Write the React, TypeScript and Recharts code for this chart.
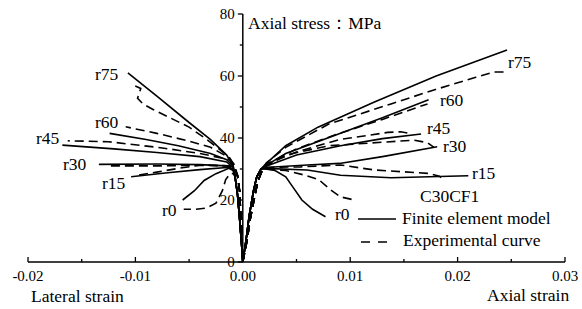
import { LineChart, Line, XAxis, YAxis, ReferenceLine, ReferenceDot } from 'recharts'

const FONT = 'Liberation Serif'

// axis ticks
const xMajorTicks = [-0.02, -0.01, 0, 0.01, 0.02, 0.03]
const xMinorTicks = [-0.015, -0.005, 0.005, 0.015, 0.025]
const yMajorTicks = [0, 20, 40, 60, 80]
const yMinorTicks = [10, 30, 50, 70]

// [strain, stress MPa]
const feLateralRise = [[0, 0], [-0.0001, 5], [-0.0003, 14], [-0.0005, 22], [-0.0007, 27]]
const expLateralRise = [[0, 0], [-0.0001, 8], [-0.0002, 16], [-0.0003, 23], [-0.0005, 28]]
const feAxialRise = [[0, 0], [0.0003, 7], [0.0006, 15], [0.001, 23], [0.0013, 27.5], [0.0017, 30]]
const expAxialRise = [[0, 0], [0.0004, 7], [0.0007, 14], [0.0011, 21], [0.0014, 26], [0.0018, 29.5]]

// finite element model, lateral branch
const feR75Lat = [[-0.0009, 31], [-0.0015, 34.5], [-0.003, 39.5], [-0.005, 45], [-0.008, 53.5], [-0.0107, 61]]
const feR60Lat = [[-0.0009, 31], [-0.0015, 33], [-0.003, 35], [-0.006, 37.5], [-0.009, 39.5], [-0.0124, 41.5]]
const feR45Lat = [[-0.0009, 30.5], [-0.0015, 32.3], [-0.004, 34], [-0.008, 35.3], [-0.012, 36.5], [-0.0168, 37.7]]
const feR30Lat = [[-0.0009, 30], [-0.0015, 31], [-0.004, 31.4], [-0.008, 31.6], [-0.0134, 31.5]]
const feR15Lat = [[-0.0009, 30], [-0.0015, 30.5], [-0.004, 29.8], [-0.007, 28.8], [-0.0104, 27.5]]
const feR0Lat = [[-0.0009, 29.5], [-0.0013, 30.2], [-0.0025, 28.5], [-0.0036, 26.3], [-0.0045, 23], [-0.0056, 20]]

// experimental curve, lateral branch
const expR75Lat = [[-0.0008, 31.5], [-0.0015, 34.5], [-0.0033, 39.4], [-0.005, 43.5], [-0.007, 46.9], [-0.0084, 49.3], [-0.0093, 51], [-0.0098, 52.8], [-0.0095, 56], [-0.0103, 57.2]]
const expR60Lat = [[-0.0008, 31], [-0.0012, 33.5], [-0.003, 37], [-0.005, 39], [-0.008, 41.5], [-0.0109, 43.6]]
const expR45Lat = [[-0.0008, 31], [-0.0012, 33], [-0.004, 35], [-0.0075, 36.8], [-0.0125, 38.8], [-0.0163, 39.1]]
const expR30Lat = [[-0.0008, 30.5], [-0.0012, 31], [-0.004, 31.2], [-0.008, 31], [-0.0125, 31]]
const expR15Lat = [[-0.0008, 30], [-0.0012, 31], [-0.0039, 31.3], [-0.006, 30.2], [-0.008, 29], [-0.0098, 28]]
const expR0Lat = [[-0.0008, 28.5], [-0.0012, 28.5], [-0.0016, 26.5], [-0.0019, 23], [-0.0025, 19], [-0.0034, 17.4], [-0.0044, 17], [-0.0055, 17]]

// finite element model, axial branch
const feR75Ax = [[0.0021, 31.5], [0.004, 37.5], [0.007, 43.5], [0.0122, 51.5], [0.018, 60], [0.0246, 68.4]]
const feR60Ax = [[0.0021, 31], [0.004, 35], [0.0091, 41.5], [0.013, 46.5], [0.0173, 52.3]]
const feR45Ax = [[0.0021, 30.8], [0.005, 34.5], [0.0091, 37.5], [0.013, 39.8], [0.0166, 41.3]]
const feR30Ax = [[0.0021, 30.5], [0.006, 31.3], [0.009, 31.8], [0.013, 34], [0.0181, 37.2]]
const feR15Ax = [[0.0021, 30.2], [0.006, 29.7], [0.0091, 28], [0.0138, 27.2], [0.021, 27.8]]
const feR0Ax = [[0.0021, 30], [0.003, 29.5], [0.004, 27.5], [0.0047, 24], [0.0055, 20], [0.0065, 17], [0.0077, 14.6]]

// experimental curve, axial branch
const expR75Ax = [[0.0022, 32], [0.004, 37], [0.008, 44.5], [0.0138, 51], [0.0178, 55.5], [0.0217, 59.6], [0.0234, 61.3], [0.0243, 61.3]]
const expR60Ax = [[0.0022, 31.5], [0.005, 36.5], [0.009, 41.5], [0.013, 46], [0.0172, 51]]
const expR45Ax = [[0.0022, 31.5], [0.005, 35.5], [0.009, 39.5], [0.0135, 41.8], [0.0147, 42], [0.0155, 41.5]]
const expR30Ax = [[0.0022, 31], [0.004, 34.5], [0.008, 37.5], [0.0159, 39.3], [0.0172, 38.5], [0.0178, 37]]
const expR15Ax = [[0.0022, 30.5], [0.0054, 30.7], [0.0091, 31.3], [0.0122, 29.7], [0.0172, 28.6], [0.0183, 27.7], [0.0187, 26.5]]
const expR0Ax = [[0.0022, 30], [0.004, 29.5], [0.0058, 28], [0.0071, 26.5], [0.0082, 23.2], [0.0091, 21], [0.0104, 20]]

const pts = (rows: number[][]) => rows.map(([x, y]) => ({ x, y }))

const feLat = [feR75Lat, feR60Lat, feR45Lat, feR30Lat, feR15Lat, feR0Lat]
const expLat = [expR75Lat, expR60Lat, expR45Lat, expR30Lat, expR15Lat, expR0Lat]
const feAx = [feR75Ax, feR60Ax, feR45Ax, feR30Ax, feR15Ax, feR0Ax]
const expAx = [expR75Ax, expR60Ax, expR45Ax, expR30Ax, expR15Ax, expR0Ax]

const series = [
  ...feLat.map((t, i) => ({ key: `fe-lat-${i}`, data: pts([...feLateralRise, ...t]), dashed: false })),
  ...feAx.map((t, i) => ({ key: `fe-ax-${i}`, data: pts([...feAxialRise, ...t]), dashed: false })),
  ...expLat.map((t, i) => ({ key: `exp-lat-${i}`, data: pts([...expLateralRise, ...t]), dashed: true })),
  ...expAx.map((t, i) => ({ key: `exp-ax-${i}`, data: pts([...expAxialRise, ...t]), dashed: true })),
]

const isMajor = (v: number) => xMajorTicks.some((t) => Math.abs(t - v) < 1e-9)

function XTick(props: any) {
  const { x, y, payload } = props
  const major = isMajor(payload.value)
  return (
    <g>
      <line x1={x} x2={x} y1={y} y2={y - (major ? 5 : 3)} stroke="#000" strokeWidth={1.3} />
      {major && (
        <text x={x} y={y + 19} textAnchor="middle" style={{ fontFamily: FONT, fontSize: 15 }} fill="#000">
          {payload.value.toFixed(2)}
        </text>
      )}
    </g>
  )
}

const txt = { style: { fontFamily: FONT, fontSize: 17.5 }, fill: '#000' }

export default function App() {
  return (
    <div style={{ position: 'absolute', left: 0, top: 0, width: 582, height: 309, background: '#fff', fontFamily: FONT }}>
      <LineChart width={582} height={309} margin={{ top: 14, right: 17, bottom: 0, left: 28 }}>
        <XAxis
          type="number"
          dataKey="x"
          domain={[-0.02, 0.03]}
          ticks={[...xMajorTicks, ...xMinorTicks]}
          interval={0}
          allowDataOverflow
          height={47}
          tickLine={false}
          tickSize={0}
          tickMargin={0}
          tick={XTick}
          axisLine={{ stroke: '#000', strokeWidth: 1.5 }}
        />
        <YAxis type="number" dataKey="y" domain={[0, 80]} allowDataOverflow hide />
        <ReferenceLine x={0} stroke="#000" strokeWidth={1.5} />
        {[...yMajorTicks, ...yMinorTicks].map((v) => (
          <ReferenceDot
            key={`yt-${v}`}
            x={0}
            y={v}
            r={0}
            ifOverflow="visible"
            shape={(p: any) => {
              const major = yMajorTicks.includes(v)
              return (
                <g>
                  <line x1={p.cx - (major ? 5 : 3)} x2={p.cx} y1={p.cy} y2={p.cy} stroke="#000" strokeWidth={1.3} />
                  {major && (
                    <text x={p.cx - 8} y={p.cy + 5} textAnchor="end" style={{ fontFamily: FONT, fontSize: 15 }} fill="#000">
                      {v}
                    </text>
                  )}
                </g>
              )
            }}
          />
        ))}
        {series.map((s) => (
          <Line
            key={s.key}
            data={s.data}
            dataKey="y"
            type="linear"
            stroke="#000"
            strokeWidth={1.6}
            strokeDasharray={s.dashed ? '9 5' : undefined}
            dot={false}
            activeDot={false}
            isAnimationActive={false}
          />
        ))}
      </LineChart>
      <svg width={582} height={309} style={{ position: 'absolute', left: 0, top: 0, pointerEvents: 'none' }}>
        <text x={248} y={29} {...txt}>Axial stress：MPa</text>
        <text x={31} y={302} {...txt}>Lateral strain</text>
        <text x={487} y={301} {...txt}>Axial strain</text>

        <text x={95} y={80} {...txt}>r75</text>
        <text x={95} y={128} {...txt}>r60</text>
        <text x={36} y={144} {...txt}>r45</text>
        <text x={63} y={170} {...txt}>r30</text>
        <text x={102} y={189} {...txt}>r15</text>
        <text x={162} y={216} {...txt}>r0</text>

        <text x={508} y={68} {...txt}>r75</text>
        <text x={440} y={106} {...txt}>r60</text>
        <text x={427} y={134} {...txt}>r45</text>
        <text x={443} y={152} {...txt}>r30</text>
        <text x={472} y={179} {...txt}>r15</text>
        <text x={335} y={220} {...txt}>r0</text>

        <text x={420} y={202} {...txt}>C30CF1</text>
        <line x1={358} x2={396} y1={219} y2={219} stroke="#000" strokeWidth={1.6} />
        <text x={402} y={224} {...txt}>Finite element model</text>
        <line x1={361} x2={392} y1={242} y2={242} stroke="#000" strokeWidth={1.6} strokeDasharray="9 8" />
        <text x={403} y={246} {...txt}>Experimental curve</text>
      </svg>
    </div>
  )
}
